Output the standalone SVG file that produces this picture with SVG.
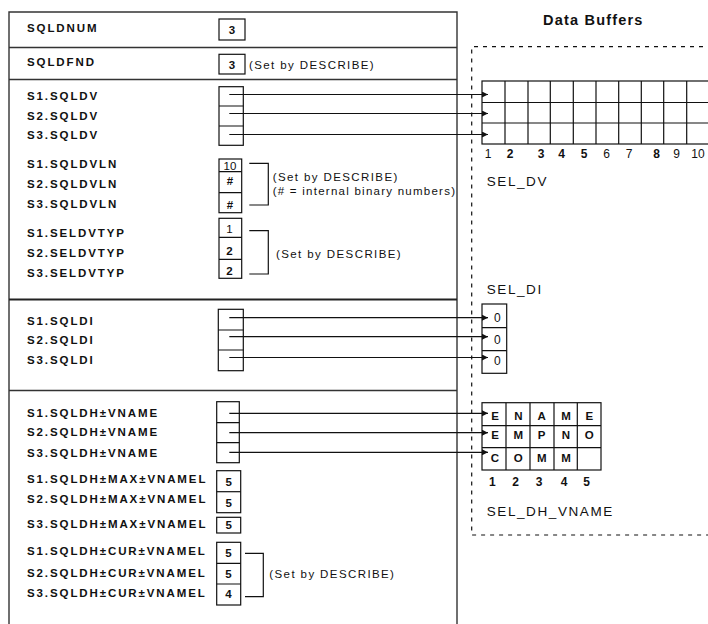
<svg xmlns="http://www.w3.org/2000/svg" width="708" height="624" viewBox="0 0 708 624">
<defs>
<marker id="ah" markerWidth="6" markerHeight="6" refX="6" refY="3" orient="auto" markerUnits="userSpaceOnUse"><path d="M0,0 L6,3 L0,6 Z" fill="#111"/></marker>
<style>
.lbl{font-family:"Liberation Sans",Arial,sans-serif;font-weight:bold;font-size:11.5px;letter-spacing:1.9px;fill:#111}
.val{font-family:"Liberation Sans",Arial,sans-serif;font-weight:bold;font-size:11.5px;fill:#111;text-anchor:middle}
.num{font-family:"Liberation Sans",Arial,sans-serif;font-size:12px;fill:#111;text-anchor:middle}
.note{font-family:"Liberation Sans",Arial,sans-serif;font-size:11.5px;letter-spacing:1.4px;fill:#111}
.name{font-family:"Liberation Sans",Arial,sans-serif;font-size:13.5px;letter-spacing:1.6px;fill:#111}
.title{font-family:"Liberation Sans",Arial,sans-serif;font-weight:bold;font-size:14.5px;letter-spacing:1.2px;fill:#111}
.bx{fill:#fff;stroke:#111;stroke-width:1.2}
.ln{fill:none;stroke:#111;stroke-width:1.2}
.pl{fill:none;stroke:#333;stroke-width:1.4}
.conn{fill:none;stroke:#111;stroke-width:1.2;marker-end:url(#ah)}
</style>
</defs>
<rect width="708" height="624" fill="#fff"/>

<g id="panel">
<path class="pl" d="M9,624 V12 H457 V624"/>
<path class="pl" d="M9,47.5 H457 M9,79.5 H457 M9,390.5 H457"/>
<path d="M9,299.5 H457" fill="none" stroke="#222" stroke-width="2.2"/>
</g>

<g id="buffers-frame">
<text class="title" x="543" y="25">Data Buffers</text>
<path d="M712,46.7 H471.7 V535 H712" fill="none" stroke="#111" stroke-width="1.2" stroke-dasharray="4 5"/>
</g>

<g id="sqldnum">
<text class="lbl" x="27" y="32">SQLDNUM</text>
<rect class="bx" x="219" y="19" width="26" height="21"/>
<text class="val" x="232" y="34">3</text>
</g>

<g id="sqldfnd">
<text class="lbl" x="27" y="66">SQLDFND</text>
<rect class="bx" x="219" y="54.3" width="26" height="19.7"/>
<text class="val" x="232" y="69">3</text>
<text class="note" x="249" y="69">(Set by DESCRIBE)</text>
</g>

<g id="sqldv">
<text class="lbl" x="27" y="100">S1.SQLDV</text>
<text class="lbl" x="27" y="119.5">S2.SQLDV</text>
<text class="lbl" x="27" y="139">S3.SQLDV</text>
<rect class="bx" x="219" y="86.7" width="24.3" height="58.6"/>
<path class="ln" d="M219,106 H243.3 M219,126 H243.3"/>
</g>

<g id="sqldvln">
<text class="lbl" x="27" y="168">S1.SQLDVLN</text>
<text class="lbl" x="27" y="188">S2.SQLDVLN</text>
<text class="lbl" x="27" y="208">S3.SQLDVLN</text>
<rect class="bx" x="219" y="159" width="22.7" height="53.7"/>
<path class="ln" d="M219,171.7 H241.7 M219,192.7 H241.7"/>
<text class="val" x="230" y="170" style="font-weight:normal">10</text>
<text class="val" x="230" y="185">#</text>
<text class="val" x="230" y="209">#</text>
<path class="ln" d="M249.3,163.3 H268.3 V205 H249.3"/>
<text class="note" x="272.7" y="181">(Set by DESCRIBE)</text>
<text class="note" x="272.7" y="195" style="letter-spacing:1.25px">(# = internal binary numbers)</text>
</g>

<g id="seldvtyp">
<text class="lbl" x="27" y="237">S1.SELDVTYP</text>
<text class="lbl" x="27" y="257">S2.SELDVTYP</text>
<text class="lbl" x="27" y="277">S3.SELDVTYP</text>
<rect class="bx" x="219" y="218.3" width="22.7" height="60"/>
<path class="ln" d="M219,237.3 H241.7 M219,259.3 H241.7"/>
<text class="val" x="229.5" y="233" style="font-weight:normal">1</text>
<text class="val" x="229.5" y="255">2</text>
<text class="val" x="229.5" y="275">2</text>
<path class="ln" d="M249.3,230.7 H268.3 V274 H249.3"/>
<text class="note" x="276" y="258">(Set by DESCRIBE)</text>
</g>

<g id="sqldi">
<text class="lbl" x="27" y="325">S1.SQLDI</text>
<text class="lbl" x="27" y="344">S2.SQLDI</text>
<text class="lbl" x="27" y="364">S3.SQLDI</text>
<rect class="bx" x="218.3" y="309.3" width="25" height="61.4"/>
<path class="ln" d="M218.3,330 H243.3 M218.3,350 H243.3"/>
</g>

<g id="sqldh-vname">
<text class="lbl" x="27" y="417">S1.SQLDH±VNAME</text>
<text class="lbl" x="27" y="436">S2.SQLDH±VNAME</text>
<text class="lbl" x="27" y="457">S3.SQLDH±VNAME</text>
<rect class="bx" x="216.7" y="401.7" width="22.6" height="61"/>
<path class="ln" d="M216.7,422.7 H239.3 M216.7,442.7 H239.3"/>
</g>

<g id="sqldh-max">
<text class="lbl" x="27" y="483">S1.SQLDH±MAX±VNAMEL</text>
<text class="lbl" x="27" y="503">S2.SQLDH±MAX±VNAMEL</text>
<text class="lbl" x="27" y="528">S3.SQLDH±MAX±VNAMEL</text>
<rect class="bx" x="216.7" y="470.7" width="24" height="42"/>
<path class="ln" d="M216.7,491.7 H240.7"/>
<rect class="bx" x="216.7" y="517.3" width="24" height="15.7"/>
<text class="val" x="228.7" y="486">5</text>
<text class="val" x="228.7" y="507">5</text>
<text class="val" x="228.7" y="529">5</text>
</g>

<g id="sqldh-cur">
<text class="lbl" x="27" y="555">S1.SQLDH±CUR±VNAMEL</text>
<text class="lbl" x="27" y="577">S2.SQLDH±CUR±VNAMEL</text>
<text class="lbl" x="27" y="597">S3.SQLDH±CUR±VNAMEL</text>
<rect class="bx" x="216.7" y="542.3" width="24" height="62.7"/>
<path class="ln" d="M216.7,563.3 H240.7 M216.7,584 H240.7"/>
<text class="val" x="228.5" y="557">5</text>
<text class="val" x="228.5" y="578">5</text>
<text class="val" x="228.5" y="598">4</text>
<path class="ln" d="M245,553.3 H263.3 V596.7 H245"/>
<text class="note" x="269.3" y="578">(Set by DESCRIBE)</text>
</g>

<g id="sel-dv">
<rect class="bx" x="482" y="81" width="240" height="63"/>
<path class="ln" d="M482,102.5 H722 M482,123 H722 M505,81 V144 M528,81 V144 M550.3,81 V144 M573.3,81 V144 M596,81 V144 M618.7,81 V144 M641.3,81 V144 M663.7,81 V144 M686.7,81 V144"/>
<text class="num" x="488" y="158">1</text>
<text class="num" x="510" y="158" font-weight="bold">2</text>
<text class="num" x="541" y="158" font-weight="bold">3</text>
<text class="num" x="561.7" y="158" font-weight="bold">4</text>
<text class="num" x="584" y="158" font-weight="bold">5</text>
<text class="num" x="606.7" y="158">6</text>
<text class="num" x="629" y="158">7</text>
<text class="num" x="656.7" y="158" font-weight="bold">8</text>
<text class="num" x="676.7" y="158">9</text>
<text class="num" x="698" y="158">10</text>
<text class="name" x="486.7" y="186">SEL_DV</text>
</g>

<g id="sel-di">
<text class="name" x="486.7" y="294">SEL_DI</text>
<rect class="bx" x="482" y="304" width="24.7" height="69.3"/>
<path class="ln" d="M482,327.7 H506.7 M482,350.7 H506.7"/>
<text class="num" x="497.3" y="322">0</text>
<text class="num" x="497.3" y="344">0</text>
<text class="num" x="497.3" y="365">0</text>
</g>

<g id="sel-dh-vname">
<rect class="bx" x="482" y="402.7" width="119" height="67.3"/>
<path class="ln" d="M482,425.7 H601 M482,447.7 H601 M506,402.7 V470 M530,402.7 V470 M554,402.7 V470 M577.3,402.7 V470"/>
<text class="val" x="495" y="420">E</text>
<text class="val" x="518.3" y="420">N</text>
<text class="val" x="541.7" y="420">A</text>
<text class="val" x="566" y="420">M</text>
<text class="val" x="589.3" y="420">E</text>
<text class="val" x="495" y="439">E</text>
<text class="val" x="518.3" y="439">M</text>
<text class="val" x="541.7" y="439">P</text>
<text class="val" x="566" y="439">N</text>
<text class="val" x="589.3" y="439">O</text>
<text class="val" x="495" y="462">C</text>
<text class="val" x="518.3" y="462">O</text>
<text class="val" x="541.7" y="462">M</text>
<text class="val" x="566" y="462">M</text>
<text class="num" x="492.3" y="486" font-weight="bold">1</text>
<text class="num" x="515.7" y="486" font-weight="bold">2</text>
<text class="num" x="539" y="486" font-weight="bold">3</text>
<text class="num" x="564" y="486" font-weight="bold">4</text>
<text class="num" x="586.7" y="486" font-weight="bold">5</text>
<text class="name" x="486.7" y="516">SEL_DH_VNAME</text>
</g>

<g id="connectors">
<path class="conn" d="M229.3,94.5 H488"/>
<path class="conn" d="M229.3,113.5 H488"/>
<path class="conn" d="M229.3,134.5 H488"/>
<path class="conn" d="M229.3,317.7 H488"/>
<path class="conn" d="M229.3,336.7 H488"/>
<path class="conn" d="M229.3,357.5 H488"/>
<path class="conn" d="M229.3,413.3 H488"/>
<path class="conn" d="M229.3,432.7 H488"/>
<path class="conn" d="M229.3,452.3 H488"/>
</g>
</svg>
